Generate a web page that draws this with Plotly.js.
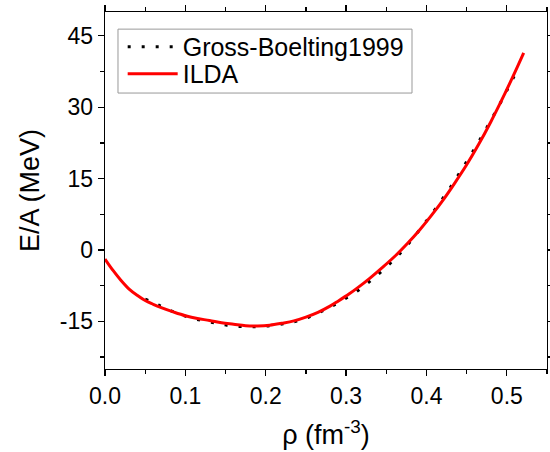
<!DOCTYPE html>
<html>
<head>
<meta charset="utf-8">
<script src="https://cdn.plot.ly/plotly-3.0.1.min.js"></script>
<style>html,body{margin:0;padding:0;background:#fff;}#chart{width:550px;height:452px;}</style>
</head>
<body>
<div id="chart"></div>
<script>
// Gross-Boelting 1999 (dotted black)
var gbRho = [0.05, 0.067, 0.084, 0.102, 0.12, 0.139, 0.155, 0.175, 0.192, 0.211, 0.229, 0.246, 0.263, 0.279, 0.295, 0.31, 0.325, 0.339, 0.353, 0.365, 0.377, 0.389, 0.4, 0.411, 0.423, 0.433, 0.442, 0.452, 0.462, 0.472, 0.482, 0.492, 0.5, 0.507, 0.515];
var gbEA  = [-10.3, -11.6, -12.9, -14.0, -14.8, -15.4, -15.9, -16.1, -16.1, -15.8, -15.3, -14.6, -13.4, -12.1, -10.6, -9.1, -7.2, -5.25, -3.1, -1.1, 1.2, 3.7, 6.1, 8.6, 11.5, 14.0, 16.4, 19.1, 21.9, 24.8, 27.8, 30.9, 33.5, 35.8, 38.5];
// ILDA (red solid)
var ildaRho = [0, 0.01, 0.02, 0.03, 0.04, 0.05, 0.06, 0.07, 0.085, 0.1, 0.115, 0.13, 0.145, 0.16, 0.175, 0.19, 0.205, 0.22, 0.235, 0.25, 0.265, 0.28, 0.29, 0.304, 0.315, 0.329, 0.345, 0.362, 0.376, 0.391, 0.405, 0.422, 0.435, 0.45, 0.465, 0.48, 0.498, 0.51, 0.521];
var ildaEA  = [-1.9, -4.3, -6.4, -8.2, -9.5, -10.6, -11.4, -12.1, -13.0, -13.8, -14.4, -14.8, -15.3, -15.6, -15.9, -15.95, -15.8, -15.4, -14.9, -14.1, -13.1, -11.8, -10.75, -9.2, -7.85, -6.0, -3.7, -1.1, 1.3, 4.1, 7.0, 10.8, 14.0, 17.9, 22.2, 26.9, 33.0, 37.3, 41.4];
var seriesNames = ['Gross-Boelting1999', 'ILDA'];
var yTickVals = [-15, 0, 15, 30, 45];
var yTickText = ['-15', '0', '15', '30', '45'];
var xTitle = '\u03c1 (fm<sup>-3</sup>)';
var yTitle = 'E/A (MeV)';

var FONT = 'Arial, "Liberation Sans", sans-serif';
var LEGFONT = {family: FONT, size: 25, color: '#000'};
var traces = [
  {x: gbRho, y: gbEA, name: seriesNames[0], legend: 'legend', mode: 'lines', line: {color: '#000', width: 3, dash: '3px,11px', shape: 'spline'}},
  {x: ildaRho, y: ildaEA, name: seriesNames[1], legend: 'legend2', mode: 'lines', line: {color: '#ff0000', width: 3, shape: 'spline'}}
];
var axisCommon = {
  showgrid: false, zeroline: false, showline: true, linecolor: '#000', linewidth: 1.3,
  mirror: 'ticks', ticks: 'outside', ticklen: 6, tickwidth: 1.3, tickcolor: '#000',
  tickfont: {family: FONT, size: 23, color: '#000'},
  minor: {ticks: 'outside', ticklen: 3.5, tickwidth: 1.3, tickcolor: '#000'}
};
var legendCommon = {xanchor: 'left', yanchor: 'middle', borderwidth: 0, bgcolor: 'rgba(0,0,0,0)', font: LEGFONT, itemwidth: 50};
var layout = {
  width: 550, height: 452,
  margin: {l: 105, r: 3, t: 12, b: 83},
  paper_bgcolor: '#fff', plot_bgcolor: '#fff',
  showlegend: true,
  legend: Object.assign({}, legendCommon, {x: 0.04, y: 0.902}),
  legend2: Object.assign({}, legendCommon, {x: 0.04, y: 0.8264}),
  shapes: [{type: 'rect', xref: 'paper', yref: 'paper', x0: 0.0294, x1: 0.6946, y0: 0.773, y1: 0.952,
            line: {color: '#999', width: 1}, fillcolor: 'rgba(0,0,0,0)', layer: 'below'}],
  xaxis: Object.assign({}, axisCommon, {
    range: [0, 0.55], dtick: 0.1, tick0: 0, tickformat: '.1f',
    minor: Object.assign({}, axisCommon.minor, {dtick: 0.05}),
    title: {text: xTitle, font: {family: FONT, size: 27, color: '#000'}, standoff: 17}
  }),
  yaxis: Object.assign({}, axisCommon, {
    range: [-25, 50], tickmode: 'array', tickvals: yTickVals, ticktext: yTickText,
    minor: Object.assign({}, axisCommon.minor, {dtick: 7.5, tick0: 0}),
    title: {text: yTitle, font: {family: FONT, size: 27, color: '#000'}, standoff: 12}
  })
};
Plotly.newPlot('chart', traces, layout, {displayModeBar: false, staticPlot: true});
</script>
</body>
</html>
